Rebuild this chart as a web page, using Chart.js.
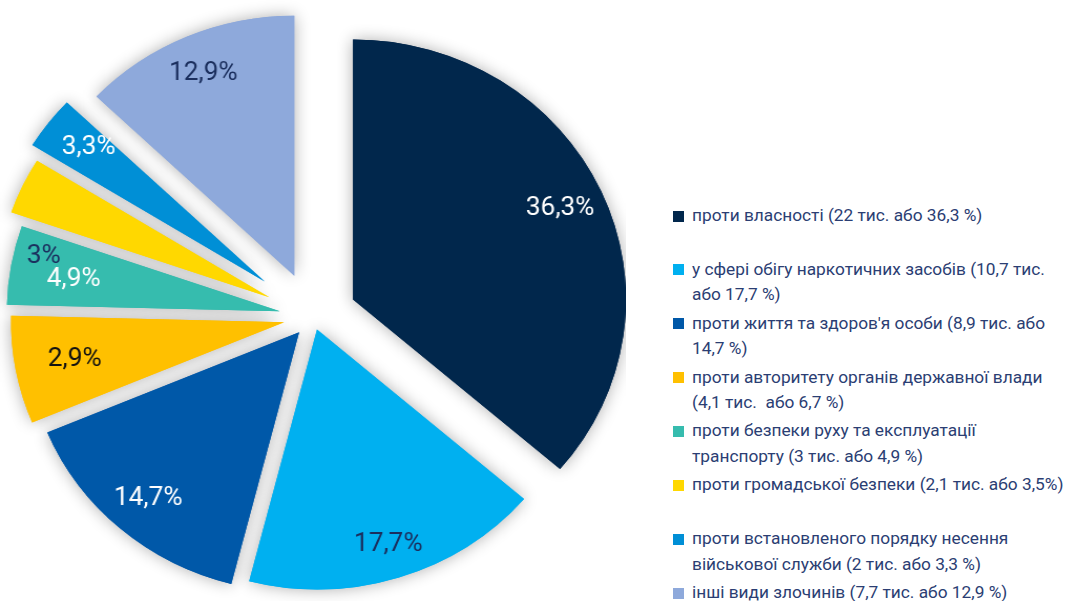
<!DOCTYPE html>
<html><head><meta charset="utf-8">
<script src="https://cdn.jsdelivr.net/npm/chart.js@4.4.0/dist/chart.umd.min.js"></script>
<style>
html,body{margin:0;padding:0;background:#fff;width:1067px;height:601px;overflow:hidden;}
#pieWrap{position:absolute;left:0;top:0;width:596px;height:601px;transform:scaleX(1.05);transform-origin:0 0;}
#legend{position:absolute;left:673px;top:203px;width:394px;font-family:Roboto,sans-serif;font-size:17.3px;color:#2b3e73;}
.item{position:relative;height:53.86px;padding-left:19px;line-height:25.5px;white-space:pre;}
.box{position:absolute;left:0;top:7.5px;width:11px;height:11px;}
</style></head>
<body>
<div id="pieWrap"><canvas id="c"></canvas></div>
<div id="legend"></div>
<script>
// ---- data ----
const categories = [
  ["проти власності (22 тис. або 36,3 %)"],
  ["у сфері обігу наркотичних засобів (10,7 тис.", "або 17,7 %)"],
  ["проти життя та здоров'я особи (8,9 тис. або", "14,7 %)"],
  ["проти авторитету органів державної влади", "(4,1 тис.  або 6,7 %)"],
  ["проти безпеки руху та експлуатації", "транспорту (3 тис. або 4,9 %)"],
  ["проти громадської безпеки (2,1 тис. або 3,5%)"],
  ["проти встановленого порядку несення", "військової служби (2 тис. або 3,3 %)"],
  ["інші види злочинів (7,7 тис. або 12,9 %)"]
];
const shares = [36.3, 17.7, 14.7, 6.7, 4.9, 3.5, 3.3, 12.9];
// labels printed on slices: [slice index, text]
const labelSlice = [0, 1, 2, 3, 4, 4, 6, 7];
const labelText  = ["36,3%", "17,7%", "14,7%", "2,9%", "3%", "4,9%", "3,3%", "12,9%"];

// ---- style ----
const sliceColors = ["#01274c", "#00b0f0", "#0058a8", "#ffc000", "#36bcae", "#ffd800", "#008fd6", "#8ea9db"];
const explode = [42, 13, 20, 28, 32, 46, 58, 45];
const labelColor = ["#ffffff", "#1b2f5e", "#ffffff", "#111111", "#1b2f5e", "#ffffff", "#ffffff", "#1b2f5e"];
const labelRadius = [0.835, 0.87, 0.845, 0.78, 0.89, 0.765, 0.825, 0.845];
const labelShiftDeg = [0, 0, 0, 0, 3.5, -1.0, 1.0, 0];

const pieDraw = {
  id: 'pieDraw',
  beforeDatasetsDraw(chart) {
    const ctx = chart.ctx;
    const meta = chart.getDatasetMeta(0);
    const drawAll = () => meta.data.forEach((arc, i) => {
      const a = (arc.startAngle + arc.endAngle) / 2;
      ctx.save();
      ctx.translate(Math.cos(a) * explode[i], Math.sin(a) * explode[i]);
      arc.draw(ctx);
      ctx.restore();
    });
    ctx.save();
    ctx.shadowColor = 'rgba(0,0,0,0.32)';
    ctx.shadowBlur = 16;
    drawAll();
    ctx.restore();
    drawAll();
    // labels
    ctx.save();
    ctx.font = '400 25px Roboto, sans-serif';
    ctx.textAlign = 'center';
    ctx.textBaseline = 'middle';
    labelText.forEach((t, k) => {
      const i = labelSlice[k];
      const arc = meta.data[i];
      const a = (arc.startAngle + arc.endAngle) / 2;
      const la = a + labelShiftDeg[k] * Math.PI / 180;
      const cx = arc.x + Math.cos(a) * explode[i];
      const cy = arc.y + Math.sin(a) * explode[i];
      const d = labelRadius[k] * arc.outerRadius;
      ctx.fillStyle = labelColor[k];
      ctx.fillText(t, cx + Math.cos(la) * d, cy + Math.sin(la) * d);
    });
    ctx.restore();
    return false;
  }
};

new Chart(document.getElementById('c'), {
  type: 'pie',
  data: {
    labels: categories.map(c => c.join(' ')),
    datasets: [{
      data: shares,
      backgroundColor: sliceColors,
      borderWidth: 0,
      clip: false
    }]
  },
  options: {
    responsive: true,
    maintainAspectRatio: false,
    animation: false,
    events: [],
    radius: 260,
    layout: { padding: { top: 33, bottom: 0, left: 0, right: 0 } },
    plugins: { legend: { display: false }, tooltip: { enabled: false } }
  },
  plugins: [pieDraw]
});

// HTML legend from the same arrays
const lg = document.getElementById('legend');
categories.forEach((lines, i) => {
  const it = document.createElement('div');
  it.className = 'item';
  const b = document.createElement('span');
  b.className = 'box';
  b.style.background = sliceColors[i];
  it.appendChild(b);
  it.appendChild(document.createTextNode(lines.join('\n')));
  lg.appendChild(it);
});
</script>
</body></html>
